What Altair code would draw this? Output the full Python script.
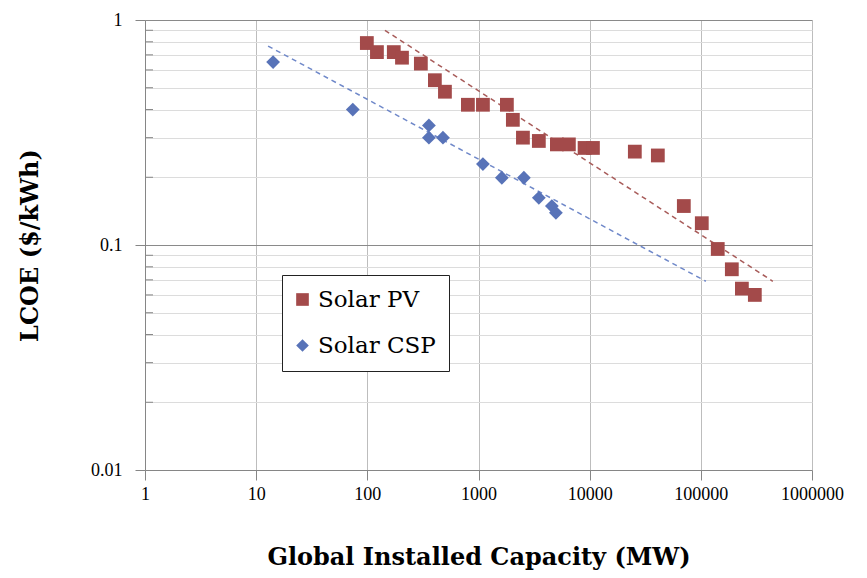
import altair as alt
import pandas as pd

# ---- data ----
pv_x = [99, 122, 173, 205, 303, 405, 499, 803, 1096, 1800, 2037, 2510, 3490, 5070,
        6500, 9000, 10700, 25480, 41040, 70300, 102000, 142000, 190000, 234000, 306000]
pv_y = [0.79, 0.72, 0.72, 0.68, 0.64, 0.54, 0.48, 0.42, 0.42, 0.42, 0.36, 0.30, 0.29, 0.28,
        0.28, 0.27, 0.27, 0.26, 0.25, 0.149, 0.125, 0.096, 0.078, 0.064, 0.060]

csp_x = [14.2, 74, 358, 358, 479, 1096, 1622, 2560, 3490, 4570, 4970]
csp_y = [0.65, 0.40, 0.34, 0.30, 0.30, 0.229, 0.199, 0.199, 0.162, 0.149, 0.139]

pv_trend_x = [144, 444000]
pv_trend_y = [0.90, 0.069]
csp_trend_x = [12.8, 111000]
csp_trend_y = [0.766, 0.069]

series = ["Solar PV", "Solar CSP"]
colors = ["#A34A4A", "#5873B8"]
trend_colors = ["#A85C5A", "#6F88C9"]

x_ticks = [1, 10, 100, 1000, 10000, 100000, 1000000]
y_ticks = [0.01, 0.02, 0.03, 0.04, 0.05, 0.06, 0.07, 0.08, 0.09,
           0.1, 0.2, 0.3, 0.4, 0.5, 0.6, 0.7, 0.8, 0.9, 1]
y_major = [0.01, 0.1, 1]
y_minor = [v for v in y_ticks if v not in y_major]

# ---- tables ----
pts = pd.DataFrame({
    "x": pv_x + csp_x,
    "y": pv_y + csp_y,
    "series": [series[0]] * len(pv_x) + [series[1]] * len(csp_x),
})
pv_tr = pd.DataFrame({"x": pv_trend_x, "y": pv_trend_y})
csp_tr = pd.DataFrame({"x": csp_trend_x, "y": csp_trend_y})
minor_df = pd.DataFrame({"y": y_minor})

TICK_FONT = "Liberation Serif"
TITLE_FONT = "DejaVu Serif"

xscale = alt.Scale(type="log", domain=[1, 1000000], nice=False)
yscale = alt.Scale(type="log", domain=[0.01, 1], nice=False)

x_axis = alt.Axis(
    values=x_ticks, format="d", title="Global Installed Capacity (MW)",
    grid=True, gridColor="#bdbdbd", gridWidth=1,
    tickSize=10, tickColor="#868686", domainColor="#868686",
    labelFont=TICK_FONT, labelFontSize=18, labelColor="black", labelPadding=5,
    labelFlush=False, labelOverlap=False,
    titleFont=TITLE_FONT, titleFontSize=24, titleFontWeight="bold", titleColor="black",
    titleX=333.5, titleY=87, titleBaseline="middle", titleAlign="center",
)
y_axis = alt.Axis(
    values=y_ticks, format="~g", title="LCOE ($/kWh)",
    labelExpr="indexof([0.01, 0.1, 1], datum.value) >= 0 ? datum.label : ''",
    grid=True,
    gridColor={"condition": {"test": "datum.value === 0.1 || datum.value === 1",
                             "value": "#8a8a8a"}, "value": "#dcdcdc"},
    tickColor={"condition": {"test": "indexof([0.01, 0.1, 1], datum.value) >= 0",
                             "value": "#868686"}, "value": "transparent"},
    tickSize=10, domainColor="#868686",
    labelFont=TICK_FONT, labelFontSize=18, labelColor="black", labelPadding=13,
    labelFlush=False, labelOverlap=False,
    titleFont=TITLE_FONT, titleFontSize=24, titleFontWeight="bold", titleColor="black",
    titleX=-115, titleY=225, titleBaseline="middle", titleAlign="center", titleAngle=-90,
)

X = alt.X("x:Q", scale=xscale, axis=x_axis)
Y = alt.Y("y:Q", scale=yscale, axis=y_axis)

minor_ticks = alt.Chart(minor_df).mark_rule(color="#868686", strokeWidth=1).encode(
    y=Y, x=alt.value(0), x2=alt.value(8)
)

pv_line = alt.Chart(pv_tr).mark_line(
    color=trend_colors[0], strokeDash=[5, 4], strokeWidth=1.5
).encode(x=X, y=Y)

csp_line = alt.Chart(csp_tr).mark_line(
    color=trend_colors[1], strokeDash=[5, 4], strokeWidth=1.5
).encode(x=X, y=Y)

points = alt.Chart(pts).mark_point(filled=True, opacity=1, size=190).encode(
    x=X,
    y=Y,
    color=alt.Color("series:N", scale=alt.Scale(domain=series, range=colors),
                    legend=alt.Legend(
                        title=None, orient="none", legendX=137, legendY=255,
                        strokeColor="#222", fillColor="white", padding=13,
                        labelFont=TITLE_FONT, labelFontSize=23, labelColor="black",
                        labelOffset=4, symbolOffset=-4, rowPadding=22, symbolSize=160,
                        symbolStrokeWidth=0, symbolOpacity=1, cornerRadius=0,
                    )),
    shape=alt.Shape("series:N", scale=alt.Scale(domain=series, range=["square", "diamond"]),
                    legend=None),
)

chart = alt.layer(minor_ticks, pv_line, csp_line, points).properties(
    width=667, height=450,
    padding={"left": 137, "top": 12, "right": 47, "bottom": 100},
    autosize=alt.AutoSizeParams(type="none"),
    background="white",
).configure_view(stroke=None)

chart.save("out.html", embed_options={"renderer": "svg", "actions": False})
